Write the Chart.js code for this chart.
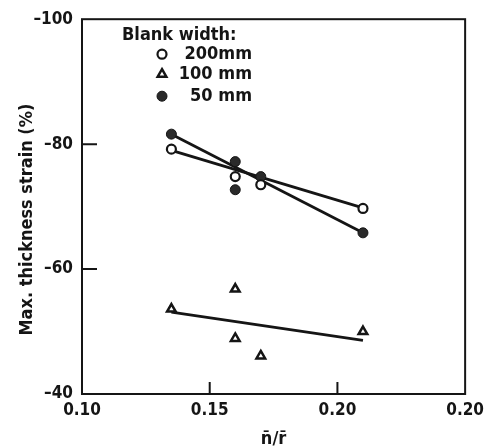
<!DOCTYPE html>
<html>
<head>
<meta charset="utf-8">
<script src="https://cdn.jsdelivr.net/npm/chart.js@4/dist/chart.umd.min.js"></script>
<style>
  html, body { margin: 0; padding: 0; background: #fff; }
  #wrap { width: 490px; height: 448px; }
</style>
</head>
<body>
<div id="wrap"><canvas id="c"></canvas></div>
<script>
// values
const ratio200 = [0.135, 0.16, 0.17, 0.21];
const strain200 = [-79.2, -74.8, -73.5, -69.7];
const ratio100 = [0.135, 0.16, 0.16, 0.17, 0.21];
const strain100 = [-53.6, -56.8, -48.9, -46.1, -50.0];
const ratio50 = [0.135, 0.16, 0.16, 0.17, 0.21];
const strain50 = [-81.6, -77.2, -72.7, -74.8, -65.8];

// fitted lines (end points)
const fitX = [0.135, 0.21];
const fit200 = [-79.0, -69.8];
const fit100 = [-53.1, -48.6];
const fit50 = [-81.6, -65.8];

const xTickValues = [0.10, 0.15, 0.20, 0.25];
const xTickLabels = ['0.10', '0.15', '0.20', '0.20'];
const yTickValues = [-100, -80, -60, -40];
const yTickLabels = ['–100', '–80', '–60', '–40'];

const yTitle = 'Max. thickness strain (%)';
const legendTitle = 'Blank width:';
const legendLabels = ['200mm', '100 mm', '50 mm'];

const INK = '#151515';
const FONT = "'DejaVu Sans Condensed', 'DejaVu Sans', 'Liberation Sans', sans-serif";

function pts(xs, ys) {
  return xs.map((x, i) => ({ x, y: ys[i] }));
}

const pointSets = [
  { data: pts(ratio200, strain200), pointStyle: 'circle', pointRadius: 4.5, pointBackgroundColor: '#fff', pointBorderColor: INK, pointBorderWidth: 2.2 },
  { data: pts(ratio100, strain100), pointStyle: 'triangle', pointRadius: 5, pointBackgroundColor: '#fff', pointBorderColor: INK, pointBorderWidth: 2.5 },
  { data: pts(ratio50, strain50), pointStyle: 'circle', pointRadius: 5, pointBackgroundColor: '#2a2a2a', pointBorderColor: INK, pointBorderWidth: 1 },
];

const lineSets = [fit200, fit100, fit50].map(ys => ({
  data: pts(fitX, ys),
  showLine: true,
  borderColor: INK,
  borderWidth: 2.8,
  pointRadius: 0,
}));

const frameAndLegend = {
  id: 'frameAndLegend',
  afterDraw(chart) {
    const { ctx, chartArea: a, scales } = chart;
    ctx.save();
    ctx.strokeStyle = INK;
    ctx.lineWidth = 2;
    ctx.strokeRect(a.left, a.top, a.right - a.left, a.bottom - a.top);

    // short inward ticks
    ctx.beginPath();
    yTickValues.slice(1, -1).forEach(v => {
      const y = scales.y.getPixelForValue(v);
      ctx.moveTo(a.left, y);
      ctx.lineTo(a.left + 15, y);
    });
    xTickValues.slice(1, -1).forEach(v => {
      const x = scales.x.getPixelForValue(v);
      ctx.moveTo(x, a.bottom);
      ctx.lineTo(x, a.bottom - 12);
    });
    ctx.stroke();

    // y title, sitting a little below the middle like the scan
    ctx.fillStyle = INK;
    ctx.font = 'bold 18px ' + FONT;
    ctx.textAlign = 'center';
    ctx.textBaseline = 'middle';
    ctx.save();
    ctx.translate(27, (a.top + a.bottom) / 2 + 13);
    ctx.rotate(-Math.PI / 2);
    ctx.fillText(yTitle, 0, 0);
    ctx.restore();

    // legend inside the plot
    ctx.font = 'bold 18px ' + FONT;
    ctx.textAlign = 'left';
    ctx.fillText(legendTitle, a.left + 40, a.top + 16);
    const rows = [a.top + 35, a.top + 55, a.top + 77];
    pointSets.forEach((ds, i) => {
      ctx.fillStyle = ds.pointBackgroundColor;
      ctx.strokeStyle = ds.pointBorderColor;
      ctx.lineWidth = ds.pointBorderWidth;
      Chart.helpers.drawPoint(ctx, {
        pointStyle: ds.pointStyle,
        radius: ds.pointRadius,
        rotation: 0,
        borderWidth: ds.pointBorderWidth,
      }, a.left + 80, rows[i]);
      ctx.fillStyle = INK;
      ctx.textAlign = 'right';
      ctx.fillText(legendLabels[i], a.left + 170, rows[i]);
    });
    ctx.restore();
  }
};

new Chart(document.getElementById('c'), {
  type: 'scatter',
  data: { datasets: [...pointSets, ...lineSets] },
  options: {
    responsive: true,
    maintainAspectRatio: false,
    animation: false,
    layout: { padding: { top: 15, right: 22, left: 0, bottom: 0 } },
    plugins: {
      legend: { display: false },
      tooltip: { enabled: false },
    },
    scales: {
      x: {
        type: 'linear',
        min: 0.10,
        max: 0.25,
        afterFit: s => { s.height = 54; },
        afterBuildTicks: s => { s.ticks = xTickValues.map(v => ({ value: v })); },
        grid: { display: false, drawTicks: false },
        border: { display: false },
        ticks: {
          padding: 6,
          color: INK,
          font: { family: FONT, size: 17, weight: 'bold' },
          callback: (v, i) => xTickLabels[i],
        },
        title: {
          display: true,
          text: 'n̄/r̄',
          color: INK,
          font: { family: FONT, size: 18, weight: 'bold' },
          padding: { top: 0, bottom: -2 },
        },
      },
      y: {
        type: 'linear',
        min: -100,
        max: -40,
        reverse: true,
        afterFit: s => { s.width = 82; },
        afterBuildTicks: s => { s.ticks = yTickValues.map(v => ({ value: v })); },
        grid: { display: false, drawTicks: false },
        border: { display: false },
        ticks: {
          padding: 9,
          color: INK,
          font: { family: FONT, size: 17, weight: 'bold' },
          callback: (v, i) => yTickLabels[i],
        },
      },
    },
  },
  plugins: [frameAndLegend],
});
</script>
</body>
</html>
